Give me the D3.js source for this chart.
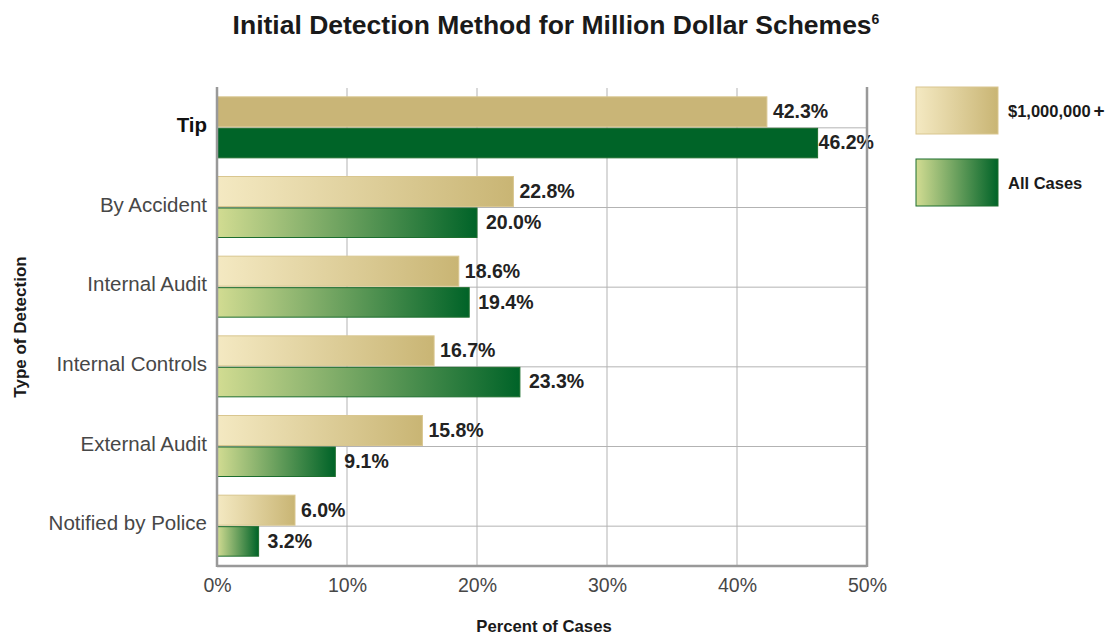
<!DOCTYPE html>
<html>
<head>
<meta charset="utf-8">
<script src="https://cdn.jsdelivr.net/npm/d3@7/dist/d3.min.js"></script>
<style>
  body { margin: 0; background: #fff; }
  .hd { font-family: "Liberation Sans", Arial, sans-serif; font-weight: bold; fill: #1a1a1a; }
  .lite { font-family: "Liberation Sans", Arial, sans-serif; fill: #474747; }
</style>
</head>
<body>
<svg id="chart" width="1118" height="635"></svg>
<script>
// data
var categories = ["Tip", "By Accident", "Internal Audit", "Internal Controls", "External Audit", "Notified by Police"];
var millionPlus = [42.3, 22.8, 18.6, 16.7, 15.8, 6.0];
var allCases = [46.2, 20.0, 19.4, 23.3, 9.1, 3.2];
var xTicks = [0, 10, 20, 30, 40, 50];
var seriesNames = ["$1,000,000+", "All Cases"];

var svg = d3.select("#chart");
var plotLeft = 217, plotRight = 867, plotTop = 88, plotBottom = 566;

var x = d3.scaleLinear().domain([0, 50]).range([plotLeft, plotRight]);
var y = d3.scaleBand().domain(categories).range([plotTop, plotBottom]);

// gradients
var defs = svg.append("defs");
function grad(id, c1, c2) {
  var g = defs.append("linearGradient").attr("id", id).attr("x1", 0).attr("x2", 1).attr("y1", 0).attr("y2", 0);
  g.append("stop").attr("offset", "0%").attr("stop-color", c1);
  g.append("stop").attr("offset", "100%").attr("stop-color", c2);
}
grad("goldGrad", "#f4e9c2", "#c9b574");
grad("greenGrad", "#d2dc92", "#006328");

// title
var title = svg.append("text").attr("class", "hd").attr("x", 556).attr("y", 34)
  .attr("text-anchor", "middle").attr("font-size", 26.5)
  .text("Initial Detection Method for Million Dollar Schemes");
title.append("tspan").attr("font-size", 14).attr("dy", -10).text("6");

// vertical gridlines
svg.selectAll(".vgrid").data(xTicks.slice(1, -1)).enter().append("line")
  .attr("x1", function(d) { return x(d); }).attr("x2", function(d) { return x(d); })
  .attr("y1", plotTop).attr("y2", plotBottom)
  .attr("stroke", "#b3b3b3").attr("stroke-width", 1);

// horizontal lines through category middles
svg.selectAll(".hgrid").data(categories).enter().append("line")
  .attr("x1", plotLeft).attr("x2", plotRight)
  .attr("y1", function(d) { return y(d) + y.bandwidth() / 2; })
  .attr("y2", function(d) { return y(d) + y.bandwidth() / 2; })
  .attr("stroke", "#b3b3b3").attr("stroke-width", 1);

// bars
var rows = svg.selectAll(".row").data(categories).enter().append("g")
  .attr("transform", function(d) { return "translate(0," + (y(d) + y.bandwidth() / 2) + ")"; });

rows.append("rect")
  .attr("x", x(0)).attr("y", -31)
  .attr("width", function(d, i) { return x(millionPlus[i]) - x(0); })
  .attr("height", 30)
  .attr("fill", function(d, i) { return i === 0 ? "#c9b577" : "url(#goldGrad)"; })
  .attr("stroke", "#d9c68f").attr("stroke-width", 1);

rows.append("rect")
  .attr("x", x(0)).attr("y", 0.5)
  .attr("width", function(d, i) { return x(allCases[i]) - x(0); })
  .attr("height", 29.5)
  .attr("fill", function(d, i) { return i === 0 ? "#006428" : "url(#greenGrad)"; })
  .attr("stroke", "#1d6e2e").attr("stroke-width", 1);

// value labels
rows.append("text").attr("class", "lbl")
  .attr("x", function(d, i) { return x(millionPlus[i]) + 6; })
  .attr("y", -9.5)
  .text(function(d, i) { return millionPlus[i].toFixed(1) + "%"; });
rows.append("text").attr("class", "lbl")
  .attr("x", function(d, i) { return x(allCases[i]) + (i === 0 ? 1 : 9); })
  .attr("y", 21.5)
  .text(function(d, i) { return allCases[i].toFixed(1) + "%"; });
svg.selectAll(".lbl").attr("font-family", "Liberation Sans, Arial, sans-serif")
  .attr("font-weight", "bold").attr("font-size", 19.5).attr("fill", "#222");

// axes frame
svg.append("line").attr("x1", plotLeft).attr("x2", plotLeft).attr("y1", plotTop - 1).attr("y2", plotBottom + 1)
  .attr("stroke", "#999").attr("stroke-width", 2.5);
svg.append("line").attr("x1", plotRight).attr("x2", plotRight).attr("y1", plotTop - 1).attr("y2", plotBottom + 1)
  .attr("stroke", "#999").attr("stroke-width", 2.5);
svg.append("line").attr("x1", plotLeft).attr("x2", plotRight).attr("y1", plotBottom).attr("y2", plotBottom)
  .attr("stroke", "#999").attr("stroke-width", 2.5);

// x axis tick labels
var xAxis = d3.axisBottom(x).tickValues(xTicks).tickSize(0).tickPadding(10)
  .tickFormat(function(d) { return d + "%"; });
var gx = svg.append("g").attr("transform", "translate(0," + plotBottom + ")").call(xAxis);
gx.select(".domain").remove();
gx.selectAll("text").attr("class", "lite").attr("font-size", 19.5).attr("dy", "0.8em");

// y axis category labels
var yAxis = d3.axisLeft(y).tickSize(0).tickPadding(10);
var gy = svg.append("g").attr("transform", "translate(" + plotLeft + ",0)").call(yAxis);
gy.select(".domain").remove();
gy.selectAll("text").attr("class", "lite").attr("font-size", 20.5).attr("dy", "0.2em")
  .attr("font-weight", function(d) { return d === "Tip" ? "bold" : null; })
  .style("fill", function(d) { return d === "Tip" ? "#111" : null; });

// axis titles
svg.append("text").attr("class", "hd").attr("x", 544).attr("y", 632)
  .attr("text-anchor", "middle").attr("font-size", 16.7).text("Percent of Cases");
svg.append("text").attr("class", "hd").attr("transform", "translate(26,327) rotate(-90)")
  .attr("text-anchor", "middle").attr("font-size", 17).text("Type of Detection");

// legend
var legend = svg.selectAll(".leg").data(seriesNames).enter().append("g")
  .attr("transform", function(d, i) { return "translate(916," + (87 + i * 72) + ")"; });
legend.append("rect").attr("width", 82).attr("height", 47)
  .attr("fill", function(d, i) { return i === 0 ? "url(#goldGrad)" : "url(#greenGrad)"; })
  .attr("stroke", function(d, i) { return i === 0 ? "#d9c68f" : "#1d6e2e"; });
legend.append("text").attr("class", "hd").attr("x", 92).attr("y", 30)
  .attr("font-size", 16.5).each(function(d) {
    var t = d3.select(this);
    if (d.slice(-1) === "+") {
      t.append("tspan").text(d.slice(0, -1));
      t.append("tspan").attr("dx", 3).attr("font-size", 19).text("+");
    } else {
      t.text(d);
    }
  });
</script>
</body>
</html>
